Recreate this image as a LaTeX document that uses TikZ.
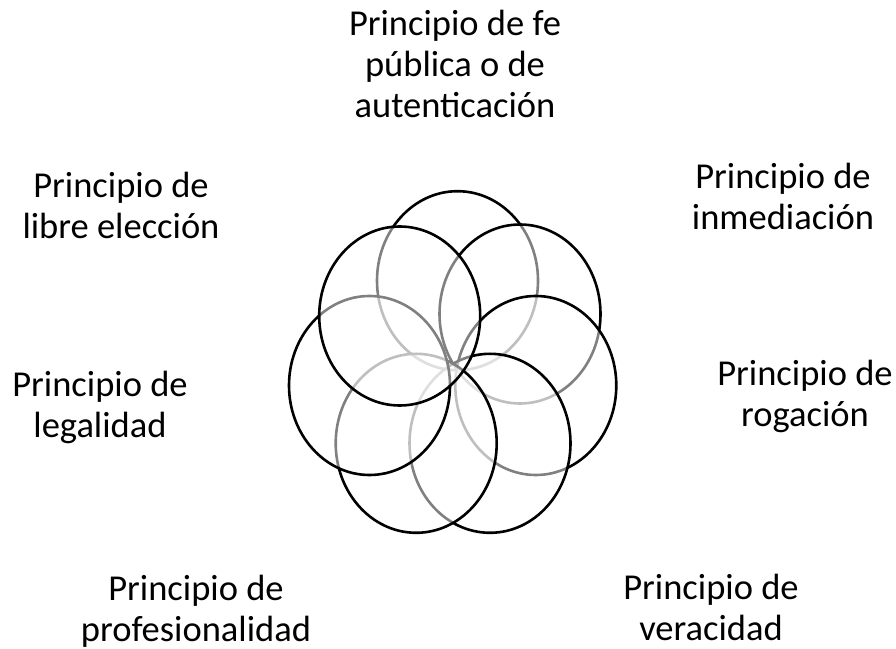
\documentclass[tikz,border=0pt]{standalone}
\usepackage{fontspec}
\setmainfont{Carlito}
\usepackage{tikz}
\usetikzlibrary{shapes}

\begin{document}
\begin{tikzpicture}[x=1pt,y=1pt,line width=2.6pt]
\tikzstyle{ring}=[draw,ellipse,fill=white,fill opacity=0.5,draw opacity=1,inner sep=0pt,minimum width=161pt,minimum height=179pt];
\tikzstyle{lbl}=[align=center,anchor=base,font=\fontsize{36.5}{41}\selectfont];

\useasboundingbox (0,0) rectangle (896,648);

% circles, bottom one first
\node [ring] (fe) at (457.5,367.3) {};
\node [ring] (inm) at (520,334) {};
\node [ring] (rog) at (535.8,262.5) {};
\node [ring] (ver) at (490,204.7) {};
\node [ring] (pro) at (416.2,204.7) {};
\node [ring] (leg) at (369.5,262.5) {};
\node [ring] (lib) at (399.7,332) {};

% labels (base = last line)
\node [lbl] (tfe) at (455,530) {Principio de fe\\pública o de\\autenticación};
\node [lbl] (tinm) at (783,418) {Principio de\\inmediación};
\node [lbl] (trog) at (805,221) {Principio de\\rogación};
\node [lbl] (tver) at (711,8) {Principio de\\veracidad};
\node [lbl] (tpro) at (196,7) {Principio de\\profesionalidad};
\node [lbl] (tleg) at (100,210) {Principio de\\legalidad};
\node [lbl] (tlib) at (121,409) {Principio de\\libre elección};
\end{tikzpicture}
\end{document}
